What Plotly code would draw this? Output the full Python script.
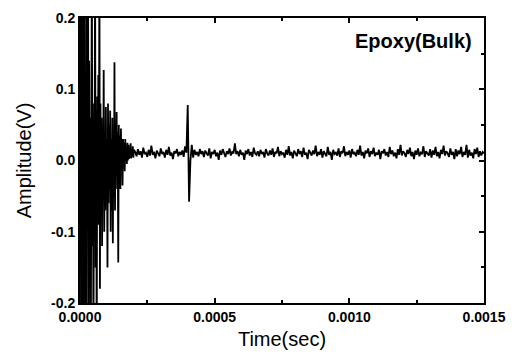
import numpy as np
import plotly.graph_objects as go

# Early burst segment: sampled every 2 microseconds, 0 .. 200 us
burst_step_us = 2
burst_values = [
    0.0, 0.35, -0.35, 0.35, -0.35, 0.35, -0.35, 0.35, -0.35, 0.3,
    -0.3, 0.12, -0.25, 0.3, -0.05, 0.3, -0.3, 0.14, -0.08, 0.06,
    -0.3, 0.1, 0.3, -0.12, 0.05, -0.3, 0.08, -0.04, 0.3, -0.15,
    0.07, -0.3, 0.09, -0.06, 0.12, -0.09, 0.3, -0.18, 0.08, -0.05,
    0.06, -0.12, 0.05, -0.03, 0.127, -0.1, 0.04, -0.07, 0.075, -0.05,
    0.03, -0.15, 0.08, -0.06, 0.05, -0.04, 0.07, -0.1, 0.03, -0.07,
    0.06, -0.116, 0.04, -0.05, 0.138, -0.07, 0.05, -0.02, 0.068, -0.04,
    0.04, -0.143, 0.05, -0.03, 0.035, -0.04, 0.045, -0.01, 0.03, -0.035,
    0.03, -0.005, 0.025, -0.015, 0.03, 0.0, 0.02, -0.005, 0.025, 0.0,
    0.022, 0.002, 0.018, 0.004, 0.024, 0.003, 0.016, 0.006, 0.02, 0.004,
    0.015,
]

# Later segment: sampled every 5 microseconds, 205 .. 1500 us
tail_start_us = 205
tail_step_us = 5
tail_values = [
    0.012, 0.006, 0.016, 0.008, 0.013, 0.004, 0.018, 0.009, 0.011, 0.005,
    0.015, 0.007, 0.021, 0.008, 0.012, 0.003, 0.014, 0.010, 0.006, 0.017,
    0.009, 0.012, 0.004, 0.015, 0.008, 0.019, 0.007, 0.011, 0.002, 0.013,
    0.010, 0.016, 0.006, 0.012, 0.008, 0.014, 0.005, 0.020, 0.011, 0.078,
    -0.058, 0.000, 0.022, 0.004, 0.015, 0.008, 0.012, 0.006, 0.016, 0.009,
    0.013, 0.005, 0.014, 0.010, 0.007, 0.017, 0.003, 0.012, 0.009, 0.015,
    0.006, 0.011, 0.001, 0.014, 0.008, 0.016, 0.010, 0.005, 0.013, 0.009,
    0.017, 0.007, 0.012, 0.010, 0.024, 0.009, 0.013, 0.006, 0.015, 0.008,
    0.011, 0.001, 0.014, 0.009, 0.016, 0.007, 0.012, 0.005, 0.018, 0.010,
    0.008, 0.013, 0.006, 0.015, 0.009, 0.012, 0.004, 0.016, 0.010, 0.007,
    0.014, 0.008, 0.017, 0.005, 0.012, 0.010, 0.019, 0.006, 0.013, 0.009,
    0.011, 0.004, 0.015, 0.008, 0.020, 0.007, 0.012, 0.003, 0.014, 0.010,
    0.006, 0.016, 0.009, 0.013, 0.005, 0.018, 0.008, 0.011, 0.002, 0.015,
    0.010, 0.007, 0.014, 0.009, 0.021, 0.006, 0.012, 0.008, 0.016, 0.004,
    0.013, 0.010, 0.006, 0.019, 0.008, 0.012, 0.001, 0.015, 0.009, 0.011,
    0.007, 0.017, 0.005, 0.013, 0.010, 0.020, 0.006, 0.012, 0.008, 0.014,
    0.004, 0.016, 0.009, 0.011, 0.006, 0.015, 0.008, 0.021, 0.007, 0.012,
    0.003, 0.014, 0.010, 0.017, 0.005, 0.013, 0.009, 0.018, 0.006, 0.011,
    0.008, 0.015, 0.002, 0.013, 0.010, 0.016, 0.007, 0.012, 0.005, 0.019,
    0.009, 0.014, 0.006, 0.011, 0.003, 0.016, 0.008, 0.022, 0.007, 0.013,
    0.010, 0.005, 0.015, 0.009, 0.018, 0.006, 0.012, 0.002, 0.014, 0.008,
    0.017, 0.006, 0.011, 0.009, 0.020, 0.005, 0.013, 0.010, 0.007, 0.016,
    0.004, 0.014, 0.008, 0.019, 0.006, 0.012, 0.003, 0.015, 0.009, 0.021,
    0.007, 0.013, 0.010, 0.005, 0.017, 0.008, 0.012, 0.002, 0.016, 0.006,
    0.014, 0.009, 0.019, 0.005, 0.012, 0.008, 0.022, 0.004, 0.015, 0.007,
    0.011, 0.003, 0.016, 0.009, 0.018, 0.005, 0.013, 0.007, 0.012, 0.010,
]

x_ticks = [0.0, 0.0005, 0.0010, 0.0015]
x_tick_labels = ["0.0000", "0.0005", "0.0010", "0.0015"]
y_ticks = [-0.2, -0.1, 0.0, 0.1, 0.2]
y_tick_labels = ["-0.2", "-0.1", "0.0", "0.1", "0.2"]
label_text = "Epoxy(Bulk)"

t_burst = np.arange(len(burst_values)) * burst_step_us * 1e-6
t_tail = (tail_start_us + np.arange(len(tail_values)) * tail_step_us) * 1e-6
t = np.concatenate([t_burst, t_tail])
v = np.array(burst_values + tail_values)

fig = go.Figure()
fig.add_trace(go.Scatter(x=t, y=v, mode="lines",
                         line=dict(color="black", width=1.8),
                         showlegend=False, hoverinfo="skip"))

font_family = "Liberation Sans, Arial, sans-serif"
axis_common = dict(
    showline=True, linecolor="black", linewidth=2, mirror="ticks",
    ticks="inside", ticklen=5, tickwidth=1.5, tickcolor="black",
    showgrid=False, zeroline=False, automargin=False,
    tickfont=dict(family=font_family, size=14, color="black"),
)

fig.update_xaxes(range=[0, 0.0015], tickvals=x_ticks,
                 ticktext=["<b>%s</b>" % s for s in x_tick_labels],
                 minor=dict(ticks="inside", ticklen=3, tickcolor="black", dtick=0.00025, tick0=0),
                 title=dict(text="Time(sec)", font=dict(family=font_family, size=20, color="black"),
                            standoff=8),
                 **axis_common)
fig.update_yaxes(range=[-0.2, 0.2], tickvals=y_ticks,
                 ticktext=["<b>%s</b>" % s for s in y_tick_labels],
                 minor=dict(ticks="inside", ticklen=3, tickcolor="black", dtick=0.05, tick0=0),
                 title=dict(text="Amplitude(V)", font=dict(family=font_family, size=20, color="black"),
                            standoff=14),
                 **axis_common)

fig.add_annotation(text="<b>%s</b>" % label_text, xref="paper", yref="paper", x=0.975, y=0.92,
                   xanchor="right", yanchor="middle", showarrow=False,
                   font=dict(family=font_family, size=20, color="black"))

fig.update_layout(width=512, height=357, paper_bgcolor="white", plot_bgcolor="white",
                  margin=dict(l=80, r=28, t=18, b=54))

fig.write_html("out.html")
